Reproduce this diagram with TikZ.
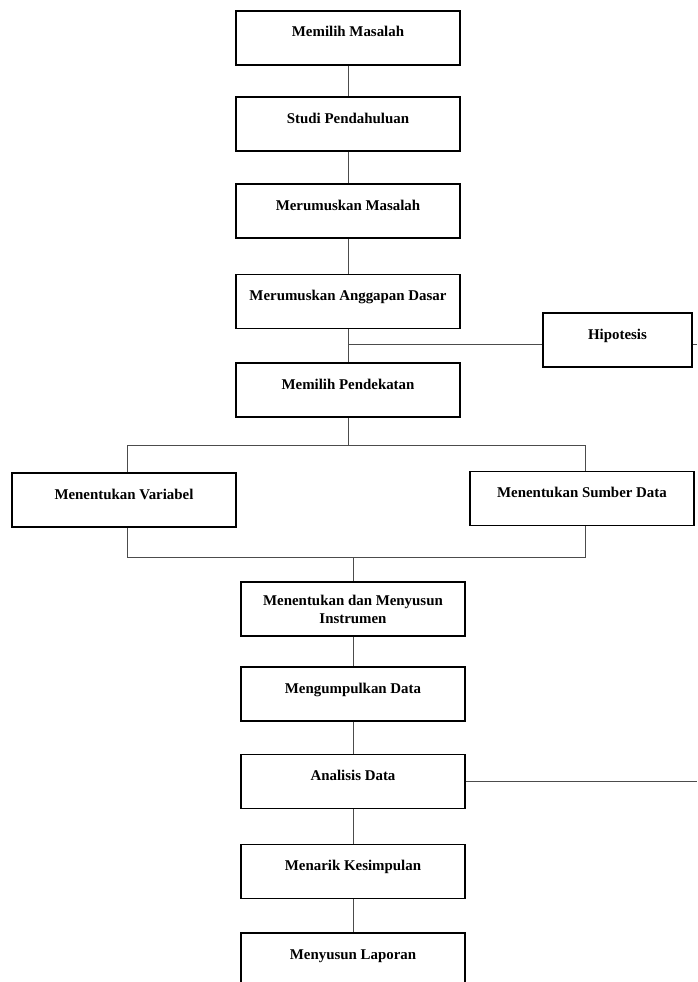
\documentclass[tikz,border=0pt]{standalone}
\usepackage{fontspec}
\setmainfont{Liberation Serif}
\begin{document}
\begin{tikzpicture}[x=1pt,y=-1pt,
  box/.style={draw=black, line width=1.6pt, rectangle, inner sep=0pt,
    minimum width=224pt, text height=26pt, text depth=28pt,
    font=\fontsize{14.9}{18}\selectfont\bfseries},
  conn/.style={draw=black!70, line width=1pt}]
\useasboundingbox (0,0) rectangle (697,982);
\clip (0,0) rectangle (697,982);
% boxes
\node[box] (b1) at (348,38) {Memilih Masalah};
\node[box] (b2) at (348,124) {Studi Pendahuluan};
\node[box] (b3) at (348,211) {Merumuskan Masalah};
\node[box] (b4) at (348,301.5) {Merumuskan Anggapan Dasar};
\node[box] (b5) at (348,390) {Memilih Pendekatan};
\node[box, minimum width=149pt] (hip) at (617.5,340) {Hipotesis};
\node[box] (var) at (124,500) {Menentukan Variabel};
\node[box] (src) at (582,498.5) {Menentukan Sumber Data};
\node[box, align=center, text height=41pt, text depth=13pt] (b6) at (353,609) {Menentukan dan Menyusun\\Instrumen};
\node[box] (b7) at (353,694) {Mengumpulkan Data};
\node[box] (b8) at (353,781.5) {Analisis Data};
\node[box] (b9) at (353,871.5) {Menarik Kesimpulan};
\node[box] (b10) at (353,960) {Menyusun Laporan};
% helper coordinates
\coordinate (j1) at (348,344);
\coordinate (e1) at (697,344);
\coordinate (tl) at (127,445);
\coordinate (tr) at (585,445);
\coordinate (bl) at (127,557);
\coordinate (br) at (585,557);
\coordinate (e2) at (697,781.5);
% connectors
\draw[conn] (b1.south) -- (b2.north);
\draw[conn] (b2.south) -- (b3.north);
\draw[conn] (b3.south) -- (b4.north);
\draw[conn] (b4.south) -- (b5.north);
\draw[conn] (j1) -- (j1 -| hip.west);
\draw[conn] (hip.east |- j1) -- (e1);
\draw[conn] (b5.south) -- (b5.south |- tl);
\draw[conn] (var.north -| tl) -- (tl) -- (tr) -- (src.north -| tr);
\draw[conn] (var.south -| bl) -- (bl) -- (br) -- (src.south -| br);
\draw[conn] (b6.north |- bl) -- (b6.north);
\draw[conn] (b6.south) -- (b7.north);
\draw[conn] (b7.south) -- (b8.north);
\draw[conn] (b8.east) -- (e2);
\draw[conn] (b8.south) -- (b9.north);
\draw[conn] (b9.south) -- (b10.north);
\end{tikzpicture}
\end{document}
